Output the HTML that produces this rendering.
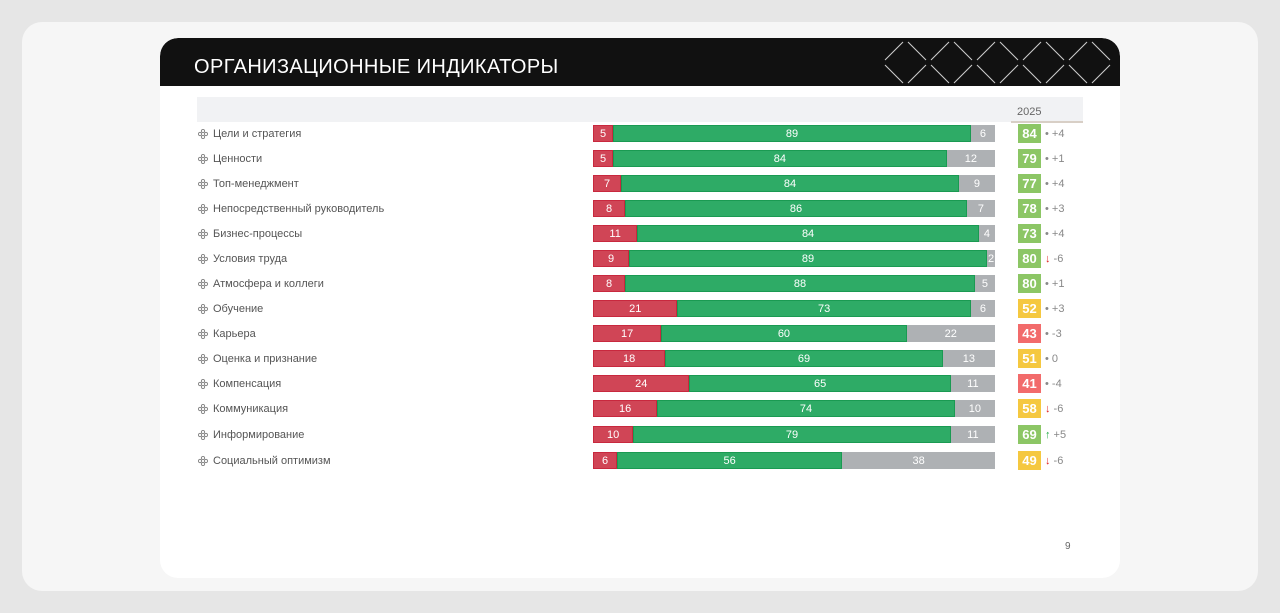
<!DOCTYPE html>
<html><head><meta charset="utf-8"><style>
*{margin:0;padding:0;box-sizing:border-box}
body{width:1280px;height:613px;background:#e6e6e6;font-family:"Liberation Sans","DejaVu Sans",sans-serif;position:relative;overflow:hidden}
.card{position:absolute;left:22px;top:22px;width:1236px;height:569px;background:#f6f6f6;border-radius:20px}
.slide{position:absolute;left:160px;top:38px;width:960px;height:540px;background:#fff;border-radius:18px;overflow:hidden}
.hdr{position:absolute;left:0;top:0;width:960px;height:48px;background:#111;border-radius:18px 18px 0 0}
.hdr .t{position:absolute;left:34px;top:18px;color:#fff;font-size:20px;letter-spacing:0.4px}
.band{position:absolute;left:197px;top:97px;width:886px;height:25px;background:#f1f2f4}
.yr{position:absolute;left:1017px;top:106px;font-size:11px;color:#666}
.ul{position:absolute;left:1011px;top:121px;width:72px;height:2px;background:#d8cfc6}
.row{position:absolute;left:0;width:1280px;height:20px}
.lab{position:absolute;left:213px;top:4px;font-size:11px;color:#555}
.ic{position:absolute;left:198px;top:5px;width:10px;height:10px}
.bar{position:absolute;left:593px;top:1px;height:17px;width:402px;display:flex}
.bar div{height:17px;font-size:11px;color:#fff;text-align:center;line-height:16px;overflow:hidden}
.r{background:#d04556;border:1px solid #c8283e}
.g{background:#2eab66;border:1px solid #1a9a52}
.y{background:#aeb1b4;border:1px solid #aeb1b4}
.sc{position:absolute;left:1018px;top:0;width:23px;height:19px;font-size:13px;font-weight:bold;color:#fff;text-align:center;line-height:19px}
.sg{background:#8cc665}.sy{background:#f5c840}.sr{background:#f26b6b}
.d{position:absolute;left:1045px;top:4px;font-size:11px;color:#888}
.dn{color:#e02020}.up{color:#22aa44}
.pn{position:absolute;left:1065px;top:541px;font-size:10px;color:#666}
</style></head><body>
<div class="card"></div>
<div class="slide">
<div class="hdr"><div class="t">ОРГАНИЗАЦИОННЫЕ ИНДИКАТОРЫ</div>
<svg style="position:absolute;left:0;top:0" width="960" height="48" stroke="#ccc" stroke-width="1.1">
<line x1="725" y1="22" x2="743" y2="4"/><line x1="748" y1="4" x2="766" y2="22"/><line x1="771" y1="22" x2="789" y2="4"/><line x1="794" y1="4" x2="812" y2="22"/><line x1="817" y1="22" x2="835" y2="4"/><line x1="840" y1="4" x2="858" y2="22"/><line x1="863" y1="22" x2="881" y2="4"/><line x1="886" y1="4" x2="904" y2="22"/><line x1="909" y1="22" x2="927" y2="4"/><line x1="932" y1="4" x2="950" y2="22"/>
<line x1="725" y1="27" x2="743" y2="45"/><line x1="748" y1="45" x2="766" y2="27"/><line x1="771" y1="27" x2="789" y2="45"/><line x1="794" y1="45" x2="812" y2="27"/><line x1="817" y1="27" x2="835" y2="45"/><line x1="840" y1="45" x2="858" y2="27"/><line x1="863" y1="27" x2="881" y2="45"/><line x1="886" y1="45" x2="904" y2="27"/><line x1="909" y1="27" x2="927" y2="45"/><line x1="932" y1="45" x2="950" y2="27"/>
</svg></div>
</div>
<div class="band"></div><div class="yr">2025</div><div class="ul"></div>

<div class="row" style="top:124px"><svg class="ic"><g fill="none" stroke="#888"><circle cx="5" cy="2" r="1.6"/><circle cx="5" cy="8" r="1.6"/><circle cx="2" cy="5" r="1.6"/><circle cx="8" cy="5" r="1.6"/></g></svg><div class="lab">Цели и стратегия</div><div class="bar"><div class="r" style="width:5%">5</div><div class="g" style="width:89%">89</div><div class="y" style="width:6%">6</div></div><div class="sc sg">84</div><div class="d">• +4</div></div>
<div class="row" style="top:149px"><svg class="ic"><g fill="none" stroke="#888"><circle cx="5" cy="2" r="1.6"/><circle cx="5" cy="8" r="1.6"/><circle cx="2" cy="5" r="1.6"/><circle cx="8" cy="5" r="1.6"/></g></svg><div class="lab">Ценности</div><div class="bar"><div class="r" style="width:5%">5</div><div class="g" style="width:83%">84</div><div class="y" style="width:12%">12</div></div><div class="sc sg">79</div><div class="d">• +1</div></div>
<div class="row" style="top:174px"><svg class="ic"><g fill="none" stroke="#888"><circle cx="5" cy="2" r="1.6"/><circle cx="5" cy="8" r="1.6"/><circle cx="2" cy="5" r="1.6"/><circle cx="8" cy="5" r="1.6"/></g></svg><div class="lab">Топ-менеджмент</div><div class="bar"><div class="r" style="width:7%">7</div><div class="g" style="width:84%">84</div><div class="y" style="width:9%">9</div></div><div class="sc sg">77</div><div class="d">• +4</div></div>
<div class="row" style="top:199px"><svg class="ic"><g fill="none" stroke="#888"><circle cx="5" cy="2" r="1.6"/><circle cx="5" cy="8" r="1.6"/><circle cx="2" cy="5" r="1.6"/><circle cx="8" cy="5" r="1.6"/></g></svg><div class="lab">Непосредственный руководитель</div><div class="bar"><div class="r" style="width:8%">8</div><div class="g" style="width:85%">86</div><div class="y" style="width:7%">7</div></div><div class="sc sg">78</div><div class="d">• +3</div></div>
<div class="row" style="top:224px"><svg class="ic"><g fill="none" stroke="#888"><circle cx="5" cy="2" r="1.6"/><circle cx="5" cy="8" r="1.6"/><circle cx="2" cy="5" r="1.6"/><circle cx="8" cy="5" r="1.6"/></g></svg><div class="lab">Бизнес-процессы</div><div class="bar"><div class="r" style="width:11%">11</div><div class="g" style="width:85%">84</div><div class="y" style="width:4%">4</div></div><div class="sc sg">73</div><div class="d">• +4</div></div>
<div class="row" style="top:249px"><svg class="ic"><g fill="none" stroke="#888"><circle cx="5" cy="2" r="1.6"/><circle cx="5" cy="8" r="1.6"/><circle cx="2" cy="5" r="1.6"/><circle cx="8" cy="5" r="1.6"/></g></svg><div class="lab">Условия труда</div><div class="bar"><div class="r" style="width:9%">9</div><div class="g" style="width:89%">89</div><div class="y" style="width:2%">2</div></div><div class="sc sg">80</div><div class="d"><span class="dn">↓</span> -6</div></div>
<div class="row" style="top:274px"><svg class="ic"><g fill="none" stroke="#888"><circle cx="5" cy="2" r="1.6"/><circle cx="5" cy="8" r="1.6"/><circle cx="2" cy="5" r="1.6"/><circle cx="8" cy="5" r="1.6"/></g></svg><div class="lab">Атмосфера и коллеги</div><div class="bar"><div class="r" style="width:8%">8</div><div class="g" style="width:87%">88</div><div class="y" style="width:5%">5</div></div><div class="sc sg">80</div><div class="d">• +1</div></div>
<div class="row" style="top:299px"><svg class="ic"><g fill="none" stroke="#888"><circle cx="5" cy="2" r="1.6"/><circle cx="5" cy="8" r="1.6"/><circle cx="2" cy="5" r="1.6"/><circle cx="8" cy="5" r="1.6"/></g></svg><div class="lab">Обучение</div><div class="bar"><div class="r" style="width:21%">21</div><div class="g" style="width:73%">73</div><div class="y" style="width:6%">6</div></div><div class="sc sy">52</div><div class="d">• +3</div></div>
<div class="row" style="top:324px"><svg class="ic"><g fill="none" stroke="#888"><circle cx="5" cy="2" r="1.6"/><circle cx="5" cy="8" r="1.6"/><circle cx="2" cy="5" r="1.6"/><circle cx="8" cy="5" r="1.6"/></g></svg><div class="lab">Карьера</div><div class="bar"><div class="r" style="width:17%">17</div><div class="g" style="width:61%">60</div><div class="y" style="width:22%">22</div></div><div class="sc sr">43</div><div class="d">• -3</div></div>
<div class="row" style="top:349px"><svg class="ic"><g fill="none" stroke="#888"><circle cx="5" cy="2" r="1.6"/><circle cx="5" cy="8" r="1.6"/><circle cx="2" cy="5" r="1.6"/><circle cx="8" cy="5" r="1.6"/></g></svg><div class="lab">Оценка и признание</div><div class="bar"><div class="r" style="width:18%">18</div><div class="g" style="width:69%">69</div><div class="y" style="width:13%">13</div></div><div class="sc sy">51</div><div class="d">• 0</div></div>
<div class="row" style="top:374px"><svg class="ic"><g fill="none" stroke="#888"><circle cx="5" cy="2" r="1.6"/><circle cx="5" cy="8" r="1.6"/><circle cx="2" cy="5" r="1.6"/><circle cx="8" cy="5" r="1.6"/></g></svg><div class="lab">Компенсация</div><div class="bar"><div class="r" style="width:24%">24</div><div class="g" style="width:65%">65</div><div class="y" style="width:11%">11</div></div><div class="sc sr">41</div><div class="d">• -4</div></div>
<div class="row" style="top:399px"><svg class="ic"><g fill="none" stroke="#888"><circle cx="5" cy="2" r="1.6"/><circle cx="5" cy="8" r="1.6"/><circle cx="2" cy="5" r="1.6"/><circle cx="8" cy="5" r="1.6"/></g></svg><div class="lab">Коммуникация</div><div class="bar"><div class="r" style="width:16%">16</div><div class="g" style="width:74%">74</div><div class="y" style="width:10%">10</div></div><div class="sc sy">58</div><div class="d"><span class="dn">↓</span> -6</div></div>
<div class="row" style="top:425px"><svg class="ic"><g fill="none" stroke="#888"><circle cx="5" cy="2" r="1.6"/><circle cx="5" cy="8" r="1.6"/><circle cx="2" cy="5" r="1.6"/><circle cx="8" cy="5" r="1.6"/></g></svg><div class="lab">Информирование</div><div class="bar"><div class="r" style="width:10%">10</div><div class="g" style="width:79%">79</div><div class="y" style="width:11%">11</div></div><div class="sc sg">69</div><div class="d"><span class="up">↑</span> +5</div></div>
<div class="row" style="top:451px"><svg class="ic"><g fill="none" stroke="#888"><circle cx="5" cy="2" r="1.6"/><circle cx="5" cy="8" r="1.6"/><circle cx="2" cy="5" r="1.6"/><circle cx="8" cy="5" r="1.6"/></g></svg><div class="lab">Социальный оптимизм</div><div class="bar"><div class="r" style="width:6%">6</div><div class="g" style="width:56%">56</div><div class="y" style="width:38%">38</div></div><div class="sc sy">49</div><div class="d"><span class="dn">↓</span> -6</div></div>
<div class="pn">9</div>
</body></html>
